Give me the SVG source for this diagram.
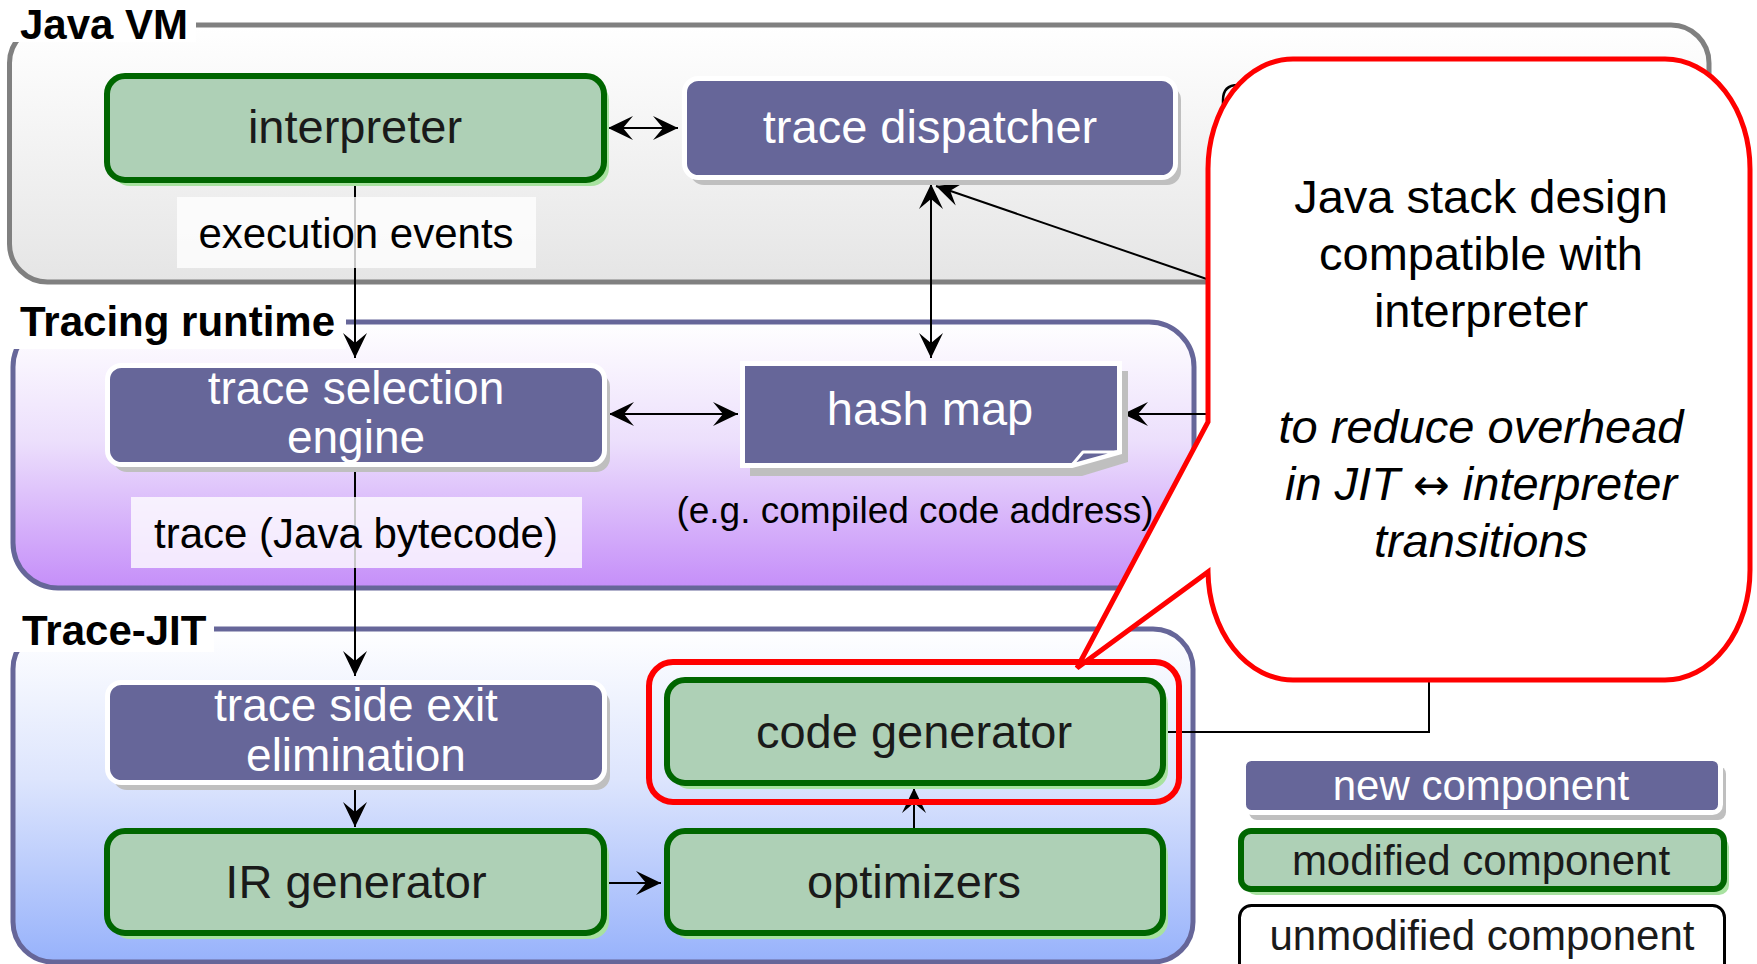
<svg xmlns="http://www.w3.org/2000/svg" width="1757" height="964" viewBox="0 0 1757 964">
<defs>
<linearGradient id="gVM" x1="0" y1="0" x2="0" y2="1"><stop offset="0" stop-color="#ffffff"/><stop offset="1" stop-color="#e5e5e5"/></linearGradient>
<linearGradient id="gTR" x1="0" y1="0" x2="0" y2="1"><stop offset="0" stop-color="#ffffff"/><stop offset="0.45" stop-color="#ecdffc"/><stop offset="1" stop-color="#c58ef9"/></linearGradient>
<linearGradient id="gJIT" x1="0" y1="0" x2="0" y2="1"><stop offset="0" stop-color="#ffffff"/><stop offset="0.45" stop-color="#dde5fd"/><stop offset="1" stop-color="#97b2fb"/></linearGradient>
<marker id="ah" viewBox="-27 -14 28 28" refX="0" refY="0" markerWidth="28" markerHeight="28" markerUnits="userSpaceOnUse" orient="auto-start-reverse"><path d="M0,0 L-25,-12 L-15,0 L-25,12 Z" fill="#000"/></marker>
<style>
text{font-family:"Liberation Sans",Arial,sans-serif;}
.title{font-size:42px;font-weight:bold;fill:#000;}
.new{fill:#666699;stroke:#ffffff;stroke-width:5;}
.newsh{fill:#bfbfbf;}
.mod{fill:#aed0b6;stroke:#006600;stroke-width:6;}
.modsh{fill:#a8e2a0;}
.tw{font-size:47px;fill:#ffffff;text-anchor:middle;}
.tw2{font-size:46px;fill:#ffffff;text-anchor:middle;}
.tg{font-size:47px;fill:#1a1a1a;text-anchor:middle;}
.lbl{font-size:42px;fill:#000;text-anchor:middle;}
.lbg{fill:#ffffff;fill-opacity:0.78;}
.con{stroke:#000;stroke-width:2;fill:none;}
.ct{font-size:47px;fill:#000;text-anchor:middle;}
.leg{font-size:42px;text-anchor:middle;}
</style>
</defs>

<g id="containers">
<rect x="9.5" y="25" width="1699.5" height="257" rx="38" fill="url(#gVM)" stroke="#808080" stroke-width="5"/>
<rect x="13" y="322" width="1181" height="266" rx="45" fill="url(#gTR)" stroke="#666699" stroke-width="5"/>
<rect x="13" y="629" width="1180" height="333" rx="40" fill="url(#gJIT)" stroke="#666699" stroke-width="5"/>
<rect x="0" y="0" width="196" height="42" fill="#ffffff"/>
<rect x="0" y="296" width="346" height="53" fill="#ffffff"/>
<rect x="0" y="603" width="214" height="49" fill="#ffffff"/>
<text class="title" x="20" y="39">Java VM</text>
<text class="title" x="20" y="336">Tracing runtime</text>
<text class="title" x="22" y="645">Trace-JIT</text>
</g>

<g id="connectors">
<line class="con" x1="608" y1="128" x2="678" y2="128" marker-start="url(#ah)" marker-end="url(#ah)"/>
<line class="con" x1="355" y1="183" x2="355" y2="358" marker-end="url(#ah)"/>
<line class="con" x1="609" y1="414" x2="738" y2="414" marker-start="url(#ah)" marker-end="url(#ah)"/>
<line class="con" x1="931" y1="184" x2="931" y2="358" marker-start="url(#ah)" marker-end="url(#ah)"/>
<line class="con" x1="1230" y1="287" x2="936" y2="186" marker-end="url(#ah)"/>
<line class="con" x1="1240" y1="414" x2="1123" y2="414" marker-end="url(#ah)"/>
<line class="con" x1="355" y1="467" x2="355" y2="676" marker-end="url(#ah)"/>
<line class="con" x1="355" y1="785" x2="355" y2="827" marker-end="url(#ah)"/>
<line class="con" x1="607" y1="883" x2="661" y2="883" marker-end="url(#ah)"/>
<line class="con" x1="914" y1="830" x2="914" y2="788" marker-end="url(#ah)"/>
<polyline class="con" points="1164,732 1429,732 1429,680"/>
</g>

<g id="interpreter">
<rect class="modsh" x="112" y="82" width="497" height="104" rx="18"/>
<rect class="mod" x="107" y="76" width="497" height="104" rx="18"/>
<text class="tg" x="355" y="143">interpreter</text>
</g>

<g id="trace-dispatcher">
<rect class="newsh" x="690" y="86" width="491" height="99" rx="14"/>
<rect class="new" x="684.5" y="78.5" width="491" height="99" rx="14"/>
<text class="tw" x="930" y="143">trace dispatcher</text>
</g>

<g id="label-execution-events">
<rect class="lbg" x="177" y="197" width="359" height="71"/>
<text class="lbl" x="356" y="248">execution events</text>
</g>

<g id="trace-selection-engine">
<rect class="newsh" x="113" y="373" width="497" height="99" rx="14"/>
<rect class="new" x="107.5" y="365.5" width="497" height="99" rx="14"/>
<text class="tw2" x="356" y="404">trace selection</text>
<text class="tw2" x="356" y="453">engine</text>
</g>

<g id="hash-map">
<path class="newsh" d="M750,371 H1128 V462 L1082,476 H750 Z"/>
<path class="new" d="M742.5,363.5 H1119.5 V452 L1072,465.5 H742.5 Z"/>
<path d="M1072,465 L1083,452 L1119,452 Z" fill="#666699" stroke="#ffffff" stroke-width="3" stroke-linejoin="round"/>
<text class="tw" x="930" y="425">hash map</text>
</g>

<g id="label-trace-bytecode">
<rect class="lbg" x="131" y="497" width="451" height="71"/>
<text class="lbl" x="356" y="548">trace (Java bytecode)</text>
</g>

<g id="label-eg">
<text x="915" y="523" style="font-size:37px;fill:#000;text-anchor:middle;">(e.g. compiled code address)</text>
</g>

<g id="trace-side-exit-elimination">
<rect class="newsh" x="113" y="690" width="497" height="100" rx="14"/>
<rect class="new" x="107.5" y="682.5" width="497" height="100" rx="14"/>
<text class="tw2" x="356" y="721">trace side exit</text>
<text class="tw2" x="356" y="771">elimination</text>
</g>

<g id="ir-generator">
<rect class="modsh" x="112" y="837" width="497" height="102" rx="18"/>
<rect class="mod" x="107" y="831" width="497" height="102" rx="18"/>
<text class="tg" x="356" y="898">IR generator</text>
</g>

<g id="optimizers">
<rect class="modsh" x="672" y="837" width="496" height="102" rx="18"/>
<rect class="mod" x="667" y="831" width="496" height="102" rx="18"/>
<text class="tg" x="914" y="898">optimizers</text>
</g>

<g id="code-generator">
<rect class="modsh" x="672" y="686" width="496" height="103" rx="18"/>
<rect class="mod" x="667" y="680" width="496" height="103" rx="18"/>
<text class="tg" x="914" y="748">code generator</text>
<rect x="649" y="662" width="530" height="140" rx="24" fill="none" stroke="#ff0000" stroke-width="6"/>
</g>

<g id="hidden-box">
<path d="M1223,112 V100 Q1223,85 1238,85 H1300" fill="none" stroke="#000" stroke-width="2.5"/>
</g>

<g id="callout">
<path d="M1293,59 H1665 A85,110 0 0 1 1750,169 V570 A85,110 0 0 1 1665,680 H1293 A85,110 0 0 1 1208,572 L1077,668 L1208,422 V169 A85,110 0 0 1 1293,59 Z" fill="#ffffff" stroke="#ff0000" stroke-width="5" stroke-linejoin="miter"/>
<text class="ct" x="1481" y="213">Java stack design</text>
<text class="ct" x="1481" y="270">compatible with</text>
<text class="ct" x="1481" y="327">interpreter</text>
<text class="ct" x="1481" y="443" font-style="italic">to reduce overhead</text>
<text class="ct" x="1481" y="500" font-style="italic">in JIT <tspan style="font-family:'DejaVu Sans',sans-serif;font-style:normal;font-size:44px">↔</tspan> interpreter</text>
<text class="ct" x="1481" y="557" font-style="italic">transitions</text>
</g>

<g id="legend-new">
<rect class="newsh" x="1249" y="766" width="477" height="54" rx="8"/>
<rect class="new" x="1243.5" y="758.5" width="477" height="54" rx="8"/>
<text class="leg" x="1481" y="800" fill="#ffffff">new component</text>
</g>
<g id="legend-modified">
<rect class="modsh" x="1246" y="837" width="483" height="58" rx="10"/>
<rect class="mod" x="1241" y="831" width="483" height="58" rx="10"/>
<text class="leg" x="1481" y="875" fill="#1a1a1a">modified component</text>
</g>
<g id="legend-unmodified">
<rect x="1239.5" y="905.5" width="485" height="70" rx="12" fill="#ffffff" stroke="#000" stroke-width="3"/>
<text class="leg" x="1482" y="950" fill="#1a1a1a">unmodified component</text>
</g>
</svg>
